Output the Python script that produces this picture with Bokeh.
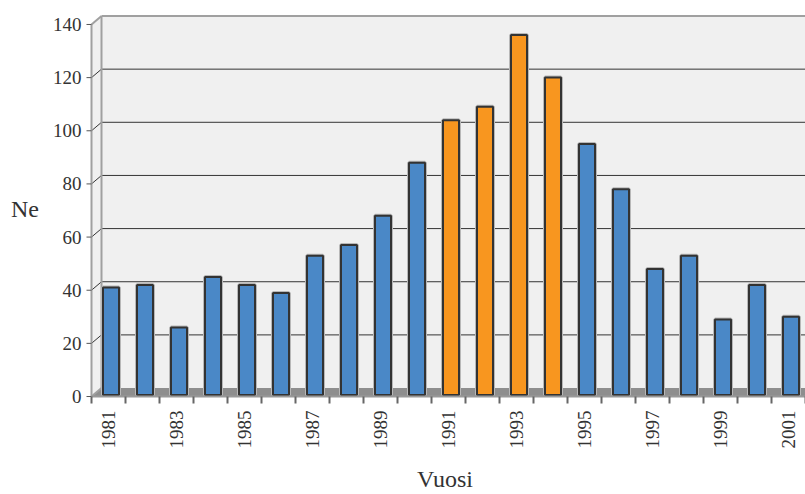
import math

from bokeh.embed import file_html
from bokeh.models import ColumnDataSource, FixedTicker, Range1d
from bokeh.plotting import figure
from bokeh.resources import INLINE

# ---- data -------------------------------------------------------------
years = list(range(1981, 2002))
ne_values = [41, 42, 26, 45, 42, 39, 53, 57, 68, 88, 104,
             109, 136, 120, 95, 78, 48, 53, 29, 42, 30]
highlight_years = [1991, 1992, 1993, 1994]
y_ticks = [0, 20, 40, 60, 80, 100, 120, 140]
x_label_years = list(range(1981, 2002, 2))
x_title = "Vuosi"
y_title = "Ne"

# ---- geometry (pixels) ------------------------------------------------
W, H = 805, 494
FRAME_L, FRAME_R, FRAME_T, FRAME_B = 84, 805, 13, 405
AXIS_X_PX, ZERO_Y_PX = 91, 397
PX_PER_YEAR = 34.0
PX_PER_UNIT = 373.0 / 140.0
DEPTH_X_PX, DEPTH_Y_PX = 10.0, 8.5

x_left = years[0] - 0.5
x_start = x_left - (AXIS_X_PX - FRAME_L) / PX_PER_YEAR
x_end = x_start + (FRAME_R - FRAME_L) / PX_PER_YEAR
y_start = -(FRAME_B - ZERO_Y_PX) / PX_PER_UNIT
y_end = y_start + (FRAME_B - FRAME_T) / PX_PER_UNIT

DX = DEPTH_X_PX / PX_PER_YEAR
DY = DEPTH_Y_PX / PX_PER_UNIT
x_far = x_end + 1
y_top = y_ticks[-1]

FONT = "Liberation Serif"
TEXT_COLOR = "#333333"

p = figure(width=W, height=H, output_backend="svg", toolbar_location=None,
           x_range=Range1d(x_start, x_end), y_range=Range1d(y_start, y_end),
           min_border_left=FRAME_L, min_border_right=W - FRAME_R,
           min_border_top=FRAME_T, min_border_bottom=H - FRAME_B)
p.xgrid.visible = False
p.ygrid.visible = False
p.outline_line_color = None
p.background_fill_color = "white"
p.border_fill_color = "white"

# ---- 3-D style walls --------------------------------------------------
wall = "#f0f0f0"
edge = "#a0a0a0"
p.quad(left=x_left + DX, right=x_far, bottom=DY, top=y_top + DY,
       fill_color=wall, line_color=None)
p.patch([x_left, x_left, x_left + DX, x_left + DX],
        [0, y_top, y_top + DY, DY], fill_color=wall, line_color=None)
p.patch([x_left, x_far, x_far, x_left + DX], [0, 0, DY, DY],
        fill_color="#8e8e8e", line_color=None)

# gridlines on the back wall and their continuation on the side wall
inner = y_ticks[1:-1]
p.segment(x0=[x_left + DX] * len(inner), y0=[v + DY for v in inner],
          x1=[x_far] * len(inner), y1=[v + DY for v in inner],
          line_color="#333333", line_width=1)
p.segment(x0=[x_left] * len(inner), y0=inner,
          x1=[x_left + DX] * len(inner), y1=[v + DY for v in inner],
          line_color="#333333", line_width=1)

# wall edges
p.segment(x0=[x_left + DX, x_left + DX, x_left, x_left],
          y0=[y_top + DY, DY, y_top, 0],
          x1=[x_far, x_left + DX, x_left + DX, x_left + DX],
          y1=[y_top + DY, y_top + DY, y_top + DY, DY],
          line_color=edge, line_width=2)

# front value axis and its ticks
p.segment(x0=[x_left], y0=[0], x1=[x_left], y1=[y_top],
          line_color=edge, line_width=2)
p.segment(x0=[x_left - 5 / PX_PER_YEAR] * len(y_ticks), y0=y_ticks,
          x1=[x_left] * len(y_ticks), y1=y_ticks,
          line_color="#555555", line_width=1)

# ---- bars -------------------------------------------------------------
colors = ["#f8961f" if y in highlight_years else "#4a88c7" for y in years]
src = ColumnDataSource(dict(
    x=[y + 2.5 / PX_PER_YEAR for y in years],
    top=ne_values,
    color=colors,
))
bar_w = 16 / PX_PER_YEAR
bar_base = 1.5 / PX_PER_UNIT
p.vbar(x="x", top="top", bottom=bar_base, width=bar_w, source=src,
       fill_color=None, line_color="#b8b8b8", line_width=4)
p.vbar(x="x", top="top", bottom=bar_base, width=bar_w, source=src,
       fill_color="color", line_color="#333333", line_width=2)

# front category axis line with ticks at category boundaries
bounds = [x_left + k for k in range(len(years) + 1)]
p.segment(x0=[x_left], y0=[0], x1=[x_far], y1=[0],
          line_color="#999999", line_width=2)
p.segment(x0=bounds, y0=[0] * len(bounds), x1=bounds,
          y1=[-7 / PX_PER_UNIT] * len(bounds),
          line_color="#666666", line_width=2)

# ---- axes (labels only) -----------------------------------------------
for ax in (p.xaxis[0], p.yaxis[0]):
    ax.axis_line_color = None
    ax.major_tick_line_color = None
    ax.minor_tick_line_color = None
    ax.major_tick_out = 0
    ax.major_tick_in = 0
    ax.minor_tick_out = 0
    ax.minor_tick_in = 0
    ax.major_label_text_font = FONT
    ax.major_label_text_font_size = "19px"
    ax.major_label_text_color = TEXT_COLOR
    ax.axis_label_text_font = FONT
    ax.axis_label_text_font_size = "24px"
    ax.axis_label_text_font_style = "normal"
    ax.axis_label_text_color = TEXT_COLOR

p.yaxis.ticker = FixedTicker(ticks=y_ticks)
p.yaxis.major_label_standoff = 3
p.yaxis.axis_label = y_title
p.yaxis.axis_label_orientation = "horizontal"
p.yaxis.axis_label_standoff = 11

p.xaxis.ticker = FixedTicker(ticks=x_label_years)
p.xaxis.major_label_orientation = math.pi / 2
p.xaxis.major_label_standoff = 6
p.xaxis.axis_label = x_title
p.xaxis.axis_label_standoff = 14

with open("out.html", "w") as f:
    f.write(file_html(p, INLINE))
